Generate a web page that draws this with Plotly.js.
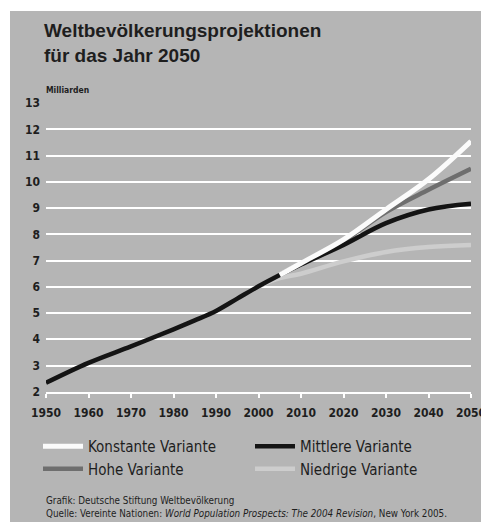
<!DOCTYPE html>
<html>
<head>
<meta charset="utf-8">
<script src="https://cdn.plot.ly/plotly-3.0.1.min.js"></script>
<style>
  html, body { margin: 0; padding: 0; background: #ffffff; }
  #chart { position: absolute; left: 10px; top: 11px; width: 471px; height: 511px; }
</style>
</head>
<body>
<div id="chart"></div>
<script>
// ---- data ----
const years      = [1950, 1960, 1970, 1980, 1985, 1990, 1995, 2000, 2005, 2010, 2020, 2030, 2040, 2050];
const mittlere   = [2.34, 3.10, 3.73, 4.38, 4.72, 5.08, 5.55, 6.02, 6.45, 6.85, 7.60, 8.43, 8.95, 9.17];
const projYears  = [2005, 2010, 2020, 2030, 2040, 2050];
const hohe       = [6.45, 6.88, 7.75, 8.85, 9.70, 10.50];
const konstante  = [6.45, 6.90, 7.80, 8.95, 10.10, 11.55];
const lowYears   = [2000, 2005, 2010, 2020, 2030, 2040, 2050];
const niedrige   = [6.02, 6.33, 6.50, 6.97, 7.33, 7.52, 7.60];
const xTicks     = [1950, 1960, 1970, 1980, 1990, 2000, 2010, 2020, 2030, 2040, 2050];
const yTicks     = [2, 3, 4, 5, 6, 7, 8, 9, 10, 11, 12, 13];
const names = {
  konstante: 'Konstante Variante',
  mittlere: 'Mittlere Variante',
  hohe: 'Hohe Variante',
  niedrige: 'Niedrige Variante'
};

const NARROW = '"DejaVu Sans Condensed", "Liberation Sans Narrow", sans-serif';
const BG = '#b5b5b5';
const INK = '#1e1e1e';

function line(x, y, name, color, width, rank) {
  return {
    type: 'scatter', mode: 'lines', x: x, y: y, name: name,
    line: {color: color, width: width, shape: 'spline', smoothing: 1},
    legendrank: rank, hoverinfo: 'skip'
  };
}

const traces = [
  line(lowYears, niedrige, names.niedrige, '#cdcdcd', 4.5, 4),
  line(projYears, hohe, names.hohe, '#6e6e6e', 4.5, 3),
  line(years, mittlere, names.mittlere, '#141414', 4.5, 2),
  line(projYears, konstante, names.konstante, '#fbfbfb', 5, 1)
];

const W = 471, H = 511;
const L = 35.5, R = 9.5, T = 91.7, B = 129.5;
const PW = W - L - R, PH = H - T - B;
// helpers: convert div pixel position to paper fraction (for annotations)
const px = v => (v - L) / PW;
const py = v => (H - B - v) / PH;

const layout = {
  width: W, height: H,
  paper_bgcolor: BG, plot_bgcolor: BG,
  margin: {l: L, r: R, t: T, b: B},
  showlegend: true,
  title: {
    text: '<b>Weltbevölkerungsprojektionen<br>für das Jahr 2050</b>',
    font: {family: '"Liberation Sans", Arial, sans-serif', size: 19, color: INK},
    xref: 'container', yref: 'container',
    x: 34 / W, xanchor: 'left',
    y: 1 - 26 / H, yanchor: 'top'
  },
  xaxis: {
    range: [1950, 2050], tickvals: xTicks, ticktext: xTicks.map(String),
    showgrid: false, zeroline: false,
    showline: true, linecolor: '#ffffff', linewidth: 2,
    ticks: 'outside', ticklen: 4, tickwidth: 2, tickcolor: '#ffffff',
    tickfont: {family: NARROW, size: 12, color: INK, weight: 'bold'},
    ticklabelstandoff: 5,
    ticklabeloverflow: 'allow',
    fixedrange: true
  },
  yaxis: {
    range: [1.99, 13.01], tickvals: yTicks, ticktext: yTicks.map(String),
    showgrid: true, gridcolor: '#ffffff', gridwidth: 2,
    zeroline: false, showline: false, ticks: '',
    tickfont: {family: NARROW, size: 12, color: INK, weight: 'bold'},
    ticklabelstandoff: 5,
    fixedrange: true
  },
  legend: {
    orientation: 'h',
    xref: 'container', yref: 'container',
    x: 28 / W, xanchor: 'left',
    y: 1 - 419 / H, yanchor: 'top',
    entrywidth: 157, entrywidthmode: 'pixels',
    itemwidth: 40,
    bgcolor: 'rgba(0,0,0,0)',
    font: {family: NARROW, size: 15, color: INK},
    traceorder: 'normal',
    tracegroupgap: 0
  },
  annotations: [
    {text: '<b>Milliarden</b>', xref: 'paper', yref: 'paper',
     x: px(33), y: py(79), xanchor: 'left', yanchor: 'middle', showarrow: false,
     font: {family: NARROW, size: 8.5, color: INK}},
    {text: 'Grafik: Deutsche Stiftung Weltbevölkerung', xref: 'paper', yref: 'paper',
     x: px(33), y: py(490), xanchor: 'left', yanchor: 'middle', showarrow: false,
     font: {family: NARROW, size: 9.8, color: INK}},
    {text: 'Quelle: Vereinte Nationen: <i>World Population Prospects: The 2004 Revision</i>, New York 2005.',
     xref: 'paper', yref: 'paper',
     x: px(33), y: py(503), xanchor: 'left', yanchor: 'middle', showarrow: false,
     font: {family: NARROW, size: 9.8, color: INK}}
  ]
};

Plotly.newPlot('chart', traces, layout, {displayModeBar: false, staticPlot: true});
</script>
</body>
</html>
